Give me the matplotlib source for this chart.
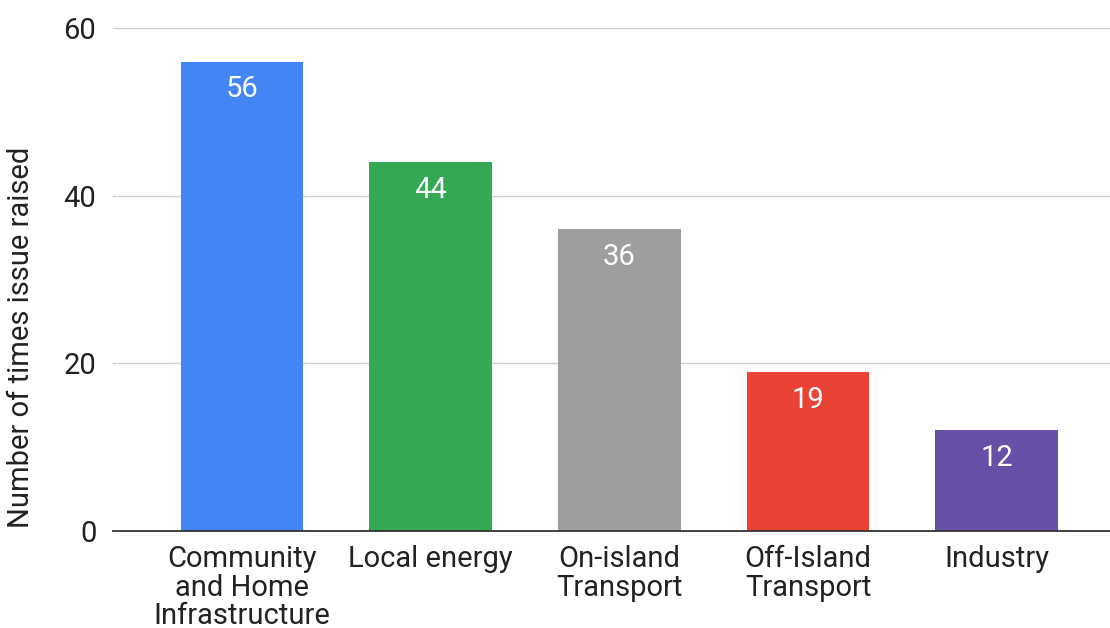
import matplotlib.pyplot as plt

plt.rcParams['font.family'] = ['Roboto', 'DejaVu Sans']

categories = ["Community\nand Home\nInfrastructure", "Local energy",
              "On-island\nTransport", "Off-Island\nTransport", "Industry"]
counts = [56, 44, 36, 19, 12]
colors = ["#4285F4", "#34A853", "#9E9E9E", "#EA4335", "#674EA7"]

fig = plt.figure(figsize=(11.1, 6.28), dpi=100)
ax = fig.add_axes([0.1018, 0.1545, 0.8982, 0.8009])

x = range(len(categories))
bars = ax.bar(x, counts, width=0.65, color=colors, zorder=3)

# value labels inside the top of each bar
for b, v in zip(bars, counts):
    ax.annotate(str(v), (b.get_x() + b.get_width() / 2, v),
                xytext=(0, -10), textcoords="offset points",
                ha="center", va="top", color="white", fontsize=21, zorder=4)

ax.set_ylim(0, 60)
ax.set_xlim(-0.684, 4.6)
ax.set_yticks([0, 20, 40, 60])
ax.set_xticks(list(x))
ax.set_xticklabels(categories, fontsize=21, color="#222222", linespacing=1.03)
ax.tick_params(axis="y", labelsize=21, colors="#222222", length=0, pad=12)
ax.tick_params(axis="x", length=0, pad=10)

ax.grid(axis="y", color="#CCCCCC", linewidth=1, zorder=0)
for side in ["top", "right", "left"]:
    ax.spines[side].set_visible(False)
ax.spines["bottom"].set_color("#333333")
ax.spines["bottom"].set_linewidth(1.3)
ax.spines["bottom"].set_zorder(5)

ax.set_ylabel("Number of times issue raised", fontsize=21, color="#222222")
ax.yaxis.set_label_coords(-0.078, 0.386)

fig.savefig("out.png", dpi=100)
